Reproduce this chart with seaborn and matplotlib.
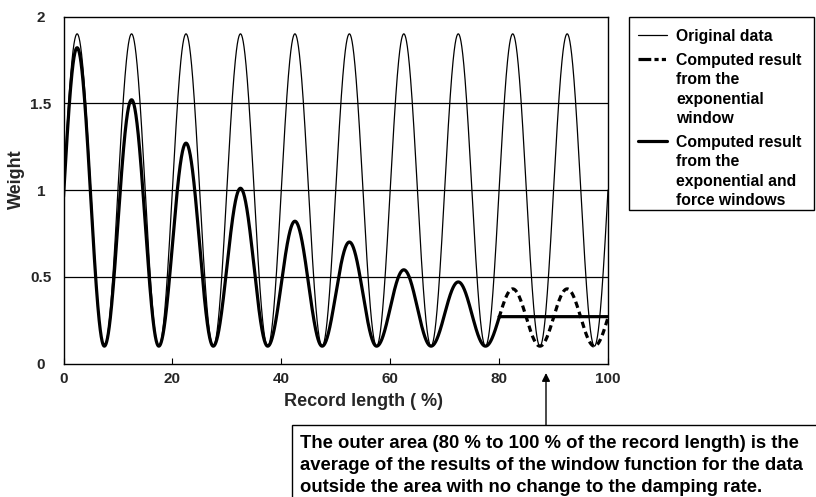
import numpy as np
import pandas as pd
import matplotlib
matplotlib.use("Agg")
import matplotlib.pyplot as plt
import seaborn as sns
from matplotlib.transforms import IdentityTransform
from matplotlib.patches import Rectangle
from matplotlib.lines import Line2D

# ---------------- data ----------------
x_ticks = [0, 20, 40, 60, 80, 100]
x_tick_labels = ["0", "20", "40", "60", "80", "100"]
y_ticks = [0, 0.5, 1, 1.5, 2]
y_tick_labels = ["0", "0.5", "1", "1.5", "2"]
grid_levels = [0.5, 1, 1.5]

period = 10.0                      # record-length % per cycle
trough = 0.1                       # minimum of every cycle
original_peak = 1.9                # peak of the original data
# peaks of the computed result (exponential + force windows), cycles at 2.5, 12.5, ... 72.5
exp_force_peaks = [1.82, 1.52, 1.27, 1.01, 0.82, 0.70, 0.54, 0.47]
# peaks of the exponential-window-only result in the outer area (82.5, 92.5)
exp_only_peaks = [0.43, 0.43]
outer_start = 80
outer_end = 100
outer_average = 0.27

# ---------------- build curves ----------------
x = np.linspace(0, 100, 4001)
phase = (1 + np.sin(2 * np.pi * x / period)) / 2
all_peaks = np.array(exp_force_peaks + exp_only_peaks)
cycle = np.minimum(np.floor((x + period / 4) / period).astype(int), len(all_peaks) - 1)
computed = trough + (all_peaks[cycle] - trough) * phase
original = trough + (original_peak - trough) * phase

df_orig = pd.DataFrame({"x": x, "y": original})
mask_in = x <= outer_start
df_solid = pd.DataFrame({"x": np.concatenate([x[mask_in], [outer_start, outer_end]]),
                         "y": np.concatenate([computed[mask_in], [outer_average, outer_average]])})
mask_out = x >= outer_start
df_dash = pd.DataFrame({"x": x[mask_out], "y": computed[mask_out]})

# ---------------- style ----------------
sns.set_theme(style="white")
plt.rcParams["font.family"] = ["Liberation Sans", "DejaVu Sans"]
plt.rcParams["font.weight"] = "bold"

W, H = 816, 497
fig = plt.figure(figsize=(W / 100, H / 100), dpi=100)
L, R, T, B = 63.5, 608, 16.5, 363.5
ax = fig.add_axes([L / W, (H - B) / H, (R - L) / W, (B - T) / H])

thin = 0.9
thick = 2.3
dash_style = (0, (2.0, 1.3))
legend_dash_style = (0, (4.0, 1.0, 1.3, 1.0, 1.3, 1.0))

sns.lineplot(data=df_orig, x="x", y="y", ax=ax, color="black", lw=thin,
             estimator=None, sort=False)
sns.lineplot(data=df_dash, x="x", y="y", ax=ax, color="black", lw=thick,
             linestyle=dash_style, estimator=None, sort=False)
sns.lineplot(data=df_solid, x="x", y="y", ax=ax, color="black", lw=thick,
             estimator=None, sort=False)

ax.set_xlim(0, 100)
ax.set_ylim(0, 2)
for g in grid_levels:
    ax.axhline(g, color="black", lw=0.9, zorder=0.5)

for sp in ax.spines.values():
    sp.set_color("black")
    sp.set_linewidth(1.0)

ax.set_xticks(x_ticks)
ax.set_xticklabels(x_tick_labels, fontsize=11, fontweight="bold")
ax.set_yticks(y_ticks)
ax.set_yticklabels(y_tick_labels, fontsize=11, fontweight="bold")
ax.tick_params(axis="x", direction="in", length=4.5, width=0.8, color="black", pad=6,
               bottom=True, top=False)
ax.tick_params(axis="y", length=0, pad=16.2, left=True)
for lab in ax.get_yticklabels():
    lab.set_horizontalalignment("center")

ax.set_xlabel("Record length ( %)", fontsize=13, fontweight="bold", va="center")
ax.xaxis.set_label_coords((363 - L) / (R - L), -(401 - B) / (B - T))
ax.set_ylabel("Weight", fontsize=13, fontweight="bold", va="center")
ax.yaxis.set_label_coords((16 - L) / (R - L), (B - 179) / (B - T))

# ---------------- legend (drawn in figure pixels, y from top) ----------------
idt = IdentityTransform()
def py(y):
    return H - y

fig.patches.append(Rectangle((629, py(210)), 814 - 629, 210 - 17, transform=idt,
                             fill=False, edgecolor="black", lw=1.0, figure=fig))
leg_entries = [
    (dict(lw=thin, linestyle="-"), ["Original data"], 35),
    (dict(lw=thick, linestyle=legend_dash_style), ["Computed result", "from the", "exponential", "window"], 59),
    (dict(lw=thick, linestyle="-"), ["Computed result", "from the", "exponential and", "force windows"], 141),
]
line_step = 19.5
for style, lines, y0 in leg_entries:
    fig.lines.append(Line2D([638, 667], [py(y0), py(y0)], transform=idt, color="black",
                            figure=fig, **style))
    for i, t in enumerate(lines):
        fig.text(676, py(y0 + i * line_step + 5.6), t, transform=idt, fontsize=11.3,
                 fontweight="bold", ha="left", va="baseline", color="black")

# ---------------- annotation ----------------
fig.patches.append(Rectangle((292, -10), 700, py(425) + 10, transform=idt,
                             fill=False, edgecolor="black", lw=1.0, figure=fig))
note_lines = [
    "The outer area (80 % to 100 % of the record length) is the",
    "average of the results of the window function for the data",
    "outside the area with no change to the damping rate.",
]
for i, t in enumerate(note_lines):
    fig.text(300, py(441 + i * 22 + 6.5), t, transform=idt, fontsize=13.3,
             fontweight="bold", ha="left", va="baseline", color="black")
ax.annotate("", xy=(546, py(373)), xycoords="figure pixels",
            xytext=(546, py(425)), textcoords="figure pixels",
            arrowprops=dict(arrowstyle="-|>", color="black", lw=1.0,
                            mutation_scale=12, shrinkA=0, shrinkB=0))

fig.savefig("out.png", dpi=100)
